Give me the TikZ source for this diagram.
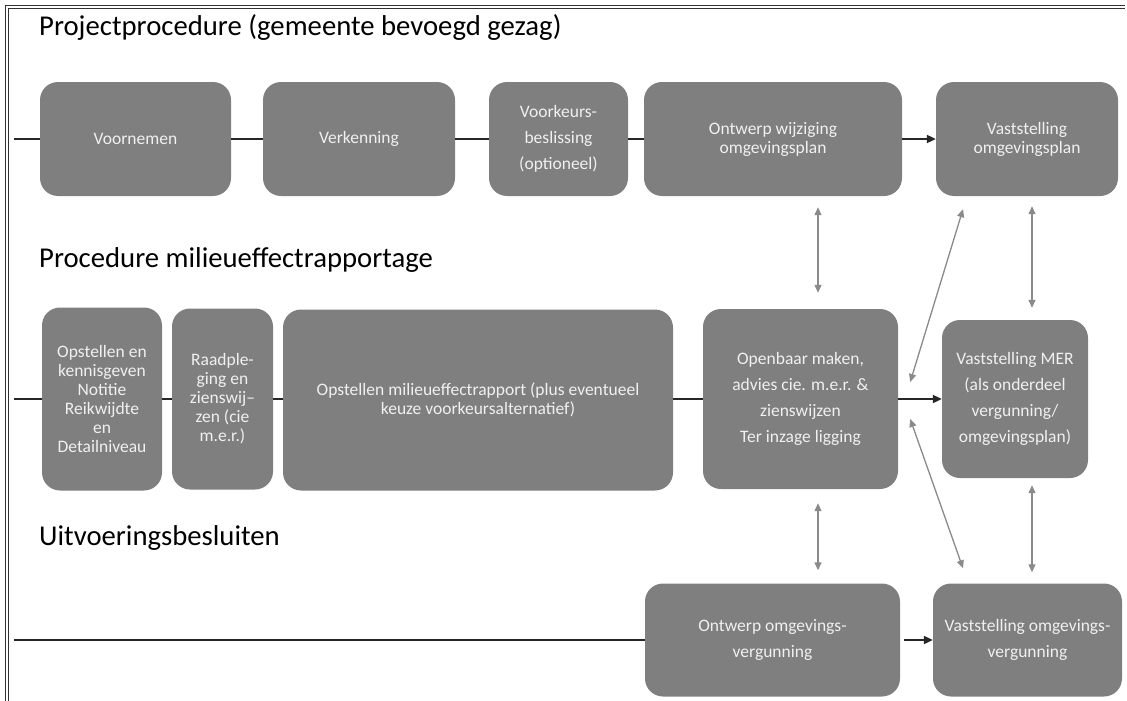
\documentclass[tikz,border=0pt]{standalone}
\usepackage{fontspec}
\setmainfont{Carlito}
\usetikzlibrary{arrows.meta}
\definecolor{boxgray}{HTML}{7F7F7F}
\definecolor{linkgray}{HTML}{8A8A8A}
\begin{document}
\begin{tikzpicture}[x=1pt,y=-1pt,
  box/.style={fill=boxgray,rounded corners=18pt,text=white!94!black,align=center,
    inner sep=2pt,font=\fontsize{17.5}{19}\selectfont},
  airy/.style={font=\fontsize{17.5}{26}\selectfont},
  lanetitle/.style={anchor=base west,inner sep=0pt,font=\fontsize{28.7}{30}\selectfont},
  flow/.style={black!85,line width=2pt},
  flowarrow/.style={flow,-{Triangle[length=9pt,width=8pt]}},
  feedback/.style={linkgray,line width=1.3pt,{Triangle[length=8pt,width=7pt]}-{Triangle[length=8pt,width=7pt]}}]
\useasboundingbox (0,0) rectangle (1127,701);
\draw[double,double distance=2pt,line width=1.2pt,black!80] (7,701) -- (7,7) -- (1125,7);
\node[lanetitle] (plan title) at (39,36) {Projectprocedure (gemeente bevoegd gezag)};
\node[lanetitle] (mer title) at (39,267) {Procedure milieueffectrapportage};
\node[lanetitle] (uitv title) at (39,545) {Uitvoeringsbesluiten};
\node[box,minimum width=191pt,minimum height=114pt] (voornemen) at (135.5,139) {Voornemen};
\node[box,minimum width=192pt,minimum height=114pt] (verkenning) at (359,139) {Verkenning};
\node[box,airy,minimum width=139pt,minimum height=114pt] (voorkeur) at (558.5,139) {Voorkeurs-\\beslissing\\(optioneel)};
\node[box,minimum width=258pt,minimum height=114pt] (ontwerp plan) at (773,139) {Ontwerp wijziging\\omgevingsplan};
\node[box,minimum width=182pt,minimum height=114pt] (vast plan) at (1027,139) {Vaststelling\\omgevingsplan};
\node[box,minimum width=120pt,minimum height=183pt] (notitie) at (102,399) {Opstellen en\\kennisgeven\\Notitie\\Reikwijdte\\en\\Detailniveau};
\node[box,minimum width=101pt,minimum height=181pt] (raadpleging) at (222.5,399) {Raadple-\\ging en\\zienswij--\\zen (cie\\m.e.r.)};
\node[box,minimum width=390pt,minimum height=181pt] (mer) at (478,400) {Opstellen milieueffectrapport (plus eventueel\\keuze voorkeursalternatief)};
\node[box,airy,minimum width=195pt,minimum height=180pt] (openbaar) at (800.5,399) {Openbaar maken,\\advies cie. m.e.r. \&\\zienswijzen\\Ter inzage ligging};
\node[box,airy,minimum width=146pt,minimum height=158pt] (vast mer) at (1015,399) {Vaststelling MER\\(als onderdeel\\vergunning/\\omgevingsplan)};
\node[box,airy,minimum width=255pt,minimum height=113pt] (ontwerp vg) at (772.5,640) {Ontwerp omgevings-\\vergunning};
\node[box,airy,minimum width=189pt,minimum height=113pt] (vast vg) at (1027.5,640) {Vaststelling omgevings-\\vergunning};
\coordinate (plan start) at (14,139);
\coordinate (mer start) at (14,399);
\coordinate (uitv start) at (14,640);
\draw[flow] (plan start) -- (voornemen.west);
\draw[flow] (voornemen.east) -- (verkenning.west);
\draw[flow] (verkenning.east) -- (voorkeur.west);
\draw[flow] (voorkeur.east) -- (ontwerp plan.west);
\draw[flowarrow] (ontwerp plan.east) -- (vast plan.west);
\draw[flow] (mer start) -- (notitie.west);
\draw[flow] (notitie.east) -- (raadpleging.west);
\draw[flow] (raadpleging.east) -- (raadpleging.east -| mer.west);
\draw[flow] (mer.east |- openbaar.west) -- (openbaar.west);
\draw[flowarrow] (openbaar.east) -- (vast mer.west);
\draw[flow] (uitv start) -- (ontwerp vg.west);
\draw[flowarrow] ([xshift=4pt]ontwerp vg.east) -- (vast vg.west);
\draw[feedback] ([shift={(45,11)}]ontwerp plan.south) -- ([shift={(17.5,-16)}]openbaar.north);
\draw[feedback] ([shift={(5,10)}]vast plan.south) -- ([shift={(17,-12)}]vast mer.north);
\draw[feedback] ([shift={(-64,13)}]vast plan.south) -- ([shift={(12,-17)}]openbaar.east);
\draw[feedback] ([shift={(12,20)}]openbaar.east) -- ([shift={(-64.5,-15)}]vast vg.north);
\draw[feedback] ([shift={(17.5,14)}]openbaar.south) -- ([shift={(45.5,-13)}]ontwerp vg.north);
\draw[feedback] ([shift={(17,7)}]vast mer.south) -- ([shift={(4.5,-11)}]vast vg.north);
\end{tikzpicture}
\end{document}
